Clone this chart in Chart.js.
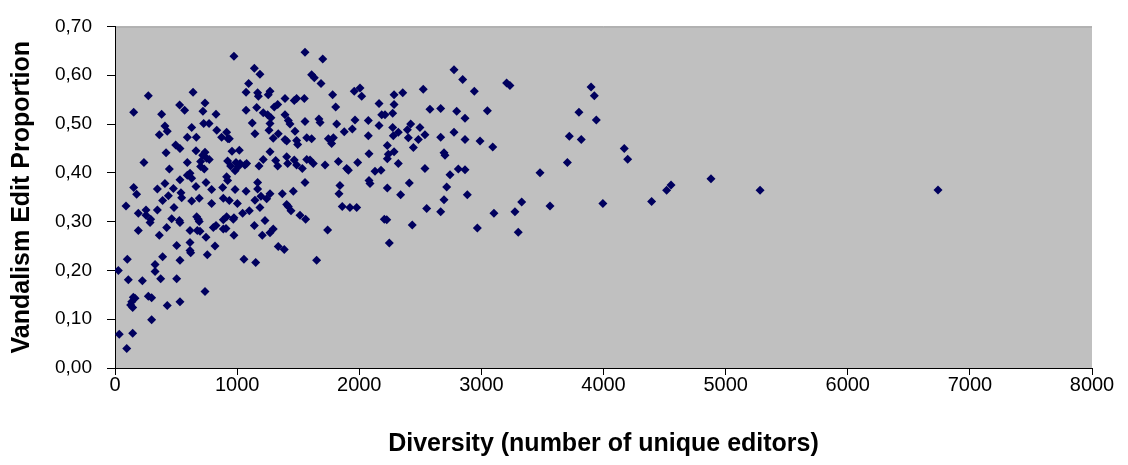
<!DOCTYPE html>
<html>
<head>
<meta charset="utf-8">
<script src="https://cdn.jsdelivr.net/npm/chart.js@4.4.1/dist/chart.umd.min.js"></script>
<style>
  html, body { margin: 0; padding: 0; background: #fff; }
  #wrap { width: 1128px; height: 465px; }
</style>
</head>
<body>
<div id="wrap"><canvas id="chart" width="1128" height="465"></canvas></div>
<script>
// number of unique editors per article
const diversity = [
  974, 273, 639, 153, 382, 529, 570, 737, 720, 827, 1073, 1094, 1073, 726, 770, 628, 409, 428, 363, 592,
  666, 833, 914, 873, 925, 936, 497, 532, 663, 418, 737, 718, 750, 958, 1018, 237, 592, 701, 701, 731,
  772, 922, 947, 991, 1024, 1064, 445, 614, 592, 628, 983, 1010, 914, 922, 532, 745, 153, 177, 347, 409,
  478, 437, 540, 546, 663, 791, 882, 983, 1073, 690, 887, 936, 390, 628,
  1002, 791, 90, 191, 254, 254, 347, 292, 287, 483, 464, 527, 532, 669, 682, 690, 887, 914, 969, 974,
  887, 909, 805, 827, 1045, 1100, 191, 423, 363, 614, 674, 696, 745, 974, 614, 614, 620, 505, 819, 101,
  390, 532, 756, 1056, 27, 328, 328, 109, 224, 374, 505, 737, 150, 164, 137, 128, 145, 273, 300, 428,
  532, 300, 35, 145, 96,
  1556, 1701, 1141, 1187, 1610, 1632, 1687, 1168, 1174, 1255, 1269, 1392, 1468, 1487, 1550, 1782, 1959, 2006, 2020, 2162,
  1160, 1214, 1250, 1277, 1304, 1332, 1392, 1419, 1433, 1474, 1124, 1269, 1556, 1670, 1679, 1807, 1815, 1877, 1943, 1965,
  2074, 2162, 2184, 2074, 1146, 1261, 1296, 1337, 1392, 1406, 1487, 1496, 1570, 1610, 1747, 1788, 1774, 1078, 1179, 1214,
  1269, 1316, 1332, 1406, 1414, 1468, 1487, 1534, 1570, 1597, 1624, 1720, 1829, 1897, 1911, 1987, 2080, 2129, 2178, 2080,
  2088, 1168, 1168, 1556, 1842, 1834, 1195, 1242, 1269, 1370, 1460, 1146,
  1187, 1406, 1419, 1441, 1515, 1561, 1228, 1141, 1206, 1269, 1296, 1337, 1386, 1152, 1651, 1741, 1861, 1924, 1979, 2205,
  2776, 2847, 3207, 3234, 2942, 2524, 2285, 2356, 2285, 2579, 2667, 2798, 2866, 3049, 2211, 2274, 2274, 2320, 2279, 2421,
  2394, 2402, 2497, 2484, 2538, 2667, 2776, 2866, 2989, 3093, 2230, 2285, 2238, 2230, 2443, 2694, 2702, 2320, 2538, 2811,
  2866, 2743, 2410, 2230, 2716, 2339, 2885, 2694, 3330,
  2225, 2434, 2552, 2667, 2246, 2967, 3103, 3275, 3302,
  3898, 3925, 3799, 3941, 3720, 3818, 4170, 4198, 3704, 3480, 4880, 4553, 4517, 5282, 4394, 3995, 3562, 6739
];

// share of edits that were vandalism
const vandalism = [
  0.639, 0.558, 0.565, 0.524, 0.520, 0.539, 0.528, 0.543, 0.526, 0.520, 0.565, 0.583, 0.528, 0.501, 0.501, 0.493, 0.496, 0.485, 0.478, 0.473,
  0.473, 0.487, 0.483, 0.473, 0.470, 0.470, 0.457, 0.450, 0.445, 0.441, 0.442, 0.436, 0.430, 0.444, 0.446, 0.421, 0.421, 0.423, 0.413, 0.408,
  0.427, 0.424, 0.414, 0.421, 0.419, 0.416, 0.408, 0.399, 0.395, 0.389, 0.404, 0.413, 0.392, 0.384, 0.386, 0.380, 0.370, 0.356, 0.367, 0.378,
  0.368, 0.353, 0.359, 0.349, 0.372, 0.366, 0.370, 0.366, 0.362, 0.348, 0.348, 0.343, 0.343, 0.342,
  0.337, 0.337, 0.332, 0.317, 0.324, 0.313, 0.324, 0.305, 0.298, 0.329, 0.306, 0.302, 0.298, 0.310, 0.305, 0.300, 0.304, 0.310, 0.305, 0.308,
  0.285, 0.286, 0.288, 0.292, 0.317, 0.322, 0.282, 0.288, 0.272, 0.282, 0.282, 0.280, 0.268, 0.272, 0.257, 0.241, 0.236, 0.251, 0.250, 0.223,
  0.228, 0.221, 0.232, 0.223, 0.200, 0.212, 0.198, 0.181, 0.179, 0.183, 0.183, 0.157, 0.145, 0.143, 0.136, 0.129, 0.124, 0.147, 0.144, 0.128,
  0.136, 0.099, 0.069, 0.071, 0.040,
  0.647, 0.633, 0.614, 0.602, 0.601, 0.595, 0.583, 0.564, 0.557, 0.560, 0.567, 0.552, 0.548, 0.552, 0.552, 0.560, 0.567, 0.574, 0.557, 0.542,
  0.534, 0.523, 0.519, 0.513, 0.535, 0.540, 0.519, 0.507, 0.500, 0.485, 0.502, 0.501, 0.505, 0.510, 0.503, 0.535, 0.500, 0.484, 0.490, 0.508,
  0.507, 0.497, 0.519, 0.476, 0.480, 0.487, 0.471, 0.480, 0.468, 0.465, 0.466, 0.458, 0.472, 0.470, 0.470, 0.472, 0.460, 0.419, 0.414, 0.427,
  0.443, 0.425, 0.414, 0.433, 0.419, 0.426, 0.416, 0.409, 0.427, 0.426, 0.419, 0.416, 0.423, 0.409, 0.405, 0.421, 0.439, 0.403, 0.405, 0.384,
  0.378, 0.380, 0.367, 0.380, 0.374, 0.357, 0.352, 0.347, 0.357, 0.357, 0.362, 0.344,
  0.329, 0.335, 0.331, 0.322, 0.313, 0.305, 0.302, 0.292, 0.272, 0.277, 0.285, 0.249, 0.243, 0.216, 0.221, 0.283, 0.331, 0.329, 0.329, 0.305,
  0.611, 0.591, 0.584, 0.579, 0.567, 0.571, 0.560, 0.564, 0.540, 0.530, 0.532, 0.526, 0.512, 0.527, 0.519, 0.522, 0.493, 0.483, 0.476, 0.500,
  0.488, 0.472, 0.493, 0.468, 0.478, 0.473, 0.483, 0.468, 0.465, 0.453, 0.456, 0.443, 0.438, 0.429, 0.452, 0.441, 0.436, 0.419, 0.409, 0.408,
  0.406, 0.396, 0.379, 0.369, 0.371, 0.355, 0.355, 0.345, 0.340,
  0.304, 0.293, 0.327, 0.320, 0.256, 0.287, 0.317, 0.320, 0.278,
  0.576, 0.558, 0.524, 0.508, 0.475, 0.468, 0.450, 0.428, 0.421, 0.400, 0.388, 0.375, 0.364, 0.364, 0.341, 0.337, 0.332, 0.365
];

const xMin = 0, xMax = 8000, xStep = 1000;
const yMin = 0, yMax = 0.7, yStep = 0.1;

const points = diversity.map((d, i) => ({x: d, y: vandalism[i]}));

const plotBackground = {
    id: 'plotBackground',
    beforeDraw(chart){
        const a = chart.chartArea, ctx = chart.ctx;
        ctx.save();
        ctx.fillStyle = '#c0c0c0';
        ctx.fillRect(a.left, a.top, a.right - a.left, a.bottom - a.top);
        ctx.strokeStyle = '#9a9a9a';
        ctx.lineWidth = 1;
        ctx.beginPath();
        ctx.moveTo(a.left, a.top + 0.5);
        ctx.lineTo(a.right, a.top + 0.5);
        ctx.stroke();
        ctx.restore();
    }
};

const fontFamily = '"Liberation Sans", Arial, sans-serif';

new Chart(document.getElementById('chart'), {
    type: 'scatter',
    data: {
        datasets: [{
            data: points,
            pointStyle: 'rectRot',
            pointRadius: 4.5,
            pointBorderWidth: 0,
            pointBackgroundColor: '#00005e',
            pointBorderColor: '#00005e'
        }]
    },
    options: {
        responsive: false,
        animation: false,
        devicePixelRatio: 1,
        layout: { padding: { top: 20, right: 36, left: 0, bottom: 0 } },
        plugins: {
            legend: { display: false },
            tooltip: { enabled: false }
        },
        scales: {
            x: {
                type: 'linear',
                min: xMin, max: xMax,
                afterFit(s){ s.height = 97; },
                ticks: {
                    stepSize: xStep,
                    maxRotation: 0,
                    padding: -2,
                    color: '#000',
                    font: { family: fontFamily, size: 20 },
                    callback: v => String(v)
                },
                grid: { drawOnChartArea: false, drawTicks: true, tickLength: 7, tickColor: '#000' },
                border: { display: true, color: '#000', width: 1 },
                title: {
                    display: true,
                    text: 'Diversity (number of unique editors)',
                    color: '#000',
                    font: { family: fontFamily, size: 25, weight: 'bold' },
                    padding: { top: 0, bottom: 6 }
                }
            },
            y: {
                min: yMin, max: yMax,
                afterFit(s){ s.width = 115; },
                ticks: {
                    stepSize: yStep,
                    padding: 15,
                    color: '#000',
                    font: { family: fontFamily, size: 19 },
                    callback: v => v.toFixed(2).replace('.', ',')
                },
                grid: { drawOnChartArea: false, drawTicks: true, tickLength: 8, tickColor: '#000' },
                border: { display: true, color: '#000', width: 1 },
                title: {
                    display: true,
                    text: 'Vandalism Edit Proportion',
                    color: '#000',
                    font: { family: fontFamily, size: 25, weight: 'bold' },
                    padding: { top: 7, bottom: 0 }
                }
            }
        }
    },
    plugins: [plotBackground]
});
</script>
</body>
</html>
